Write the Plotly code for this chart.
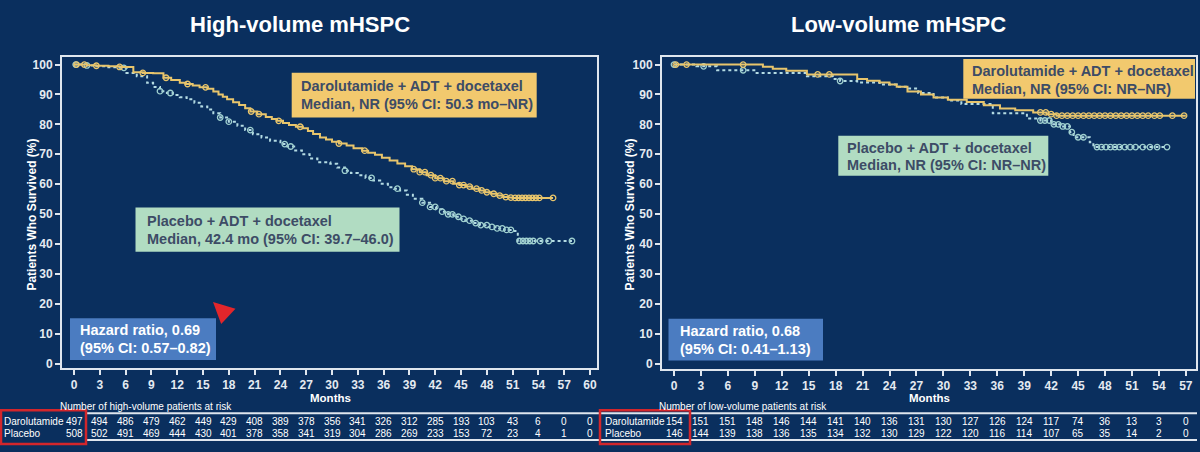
import numpy as np
import plotly.graph_objects as go

W, H = 1200, 452
BG = "#0a2f5e"
FONT = "Liberation Sans, Arial, sans-serif"
GOLD = "#e8c56c"
PBO = "#b4dbe3"
PBO_MK = "#9fd0cf"
AXIS = "#dfe6ee"
BOXTXT = "#3d4c66"

# ---------------- data ----------------
# High-volume: Darolutamide + ADT + docetaxel
hv_daro_t = [0, 1.5, 2.6, 4.0, 5.3, 6.9, 8.0, 9.2, 10.4, 11.3, 12.3, 13.0, 13.8, 14.6, 15.5, 16.2,
             16.8, 17.3, 17.8, 18.5, 19.2, 19.9, 20.5, 21.3, 22.3, 23.0, 23.6, 24.3, 25.0, 25.8,
             26.6, 27.2, 27.8, 28.6, 29.3, 30.0, 30.8, 31.7, 32.5, 33.5, 34.2, 35.0, 35.8, 36.7,
             37.6, 38.5, 39.3, 40.2, 41.0, 42.0, 43.0, 44.1, 44.8, 45.5, 46.3, 47.2, 47.8, 48.5,
             49.2, 49.9, 50.5, 51.0, 55.7]
hv_daro_s = [100, 99.8, 99.6, 99.4, 99.2, 97.4, 97.2, 97.1, 95.6, 94.8, 93.9, 93.5, 93.0, 92.4, 91.9, 91.0,
             90.0, 89.2, 88.4, 87.4, 86.5, 85.4, 84.3, 83.4, 82.5, 81.8, 81.2, 80.5, 79.8, 79.2,
             78.7, 77.8, 76.8, 75.6, 74.9, 74.2, 73.6, 72.9, 72.0, 71.2, 70.5, 69.8, 68.8, 67.9,
             66.9, 66.0, 65.0, 64.0, 63.0, 62.0, 61.0, 60.1, 59.7, 59.2, 58.5, 57.9, 57.3, 56.8,
             56.2, 55.7, 55.5, 55.4, 55.4]
hv_daro_cens = [0.3, 1.2, 2.6, 5.3, 8.0, 10.7, 13.2, 15.3, 20.6, 21.5, 23.8, 26.3, 30.8, 33.8,
                39.5, 40.2, 40.8, 41.5, 42.0, 42.6, 43.3, 44.0, 44.8, 45.3, 46.0, 46.8, 47.4,
                48.0, 48.8, 49.5, 50.2, 50.8, 51.3, 51.7, 52.1, 52.5, 52.9, 53.3, 53.7, 54.1, 55.7]

# High-volume: Placebo + ADT + docetaxel
hv_pbo_t = [0, 1.5, 2.6, 4.0, 5.3, 6.1, 7.3, 8.5, 9.2, 10.0, 10.8, 11.5, 12.3, 13.1, 14.0, 14.8,
            15.5, 16.2, 17.0, 18.0, 19.0, 19.9, 20.8, 21.8, 22.8, 24.0, 24.8, 25.6, 26.5, 27.4,
            28.3, 29.8, 30.6, 31.5, 32.2, 33.0, 33.9, 34.8, 35.6, 36.5, 37.2, 37.9, 38.7, 39.4,
            40.5, 41.4, 42.1, 42.8, 43.5, 44.1, 44.8, 45.5, 46.3, 47.2, 48.1, 49.0, 50.0, 51.0,
            51.6, 57.9]
hv_pbo_s = [100, 99.7, 99.4, 99.1, 98.9, 97.2, 96.1, 93.9, 92.5, 91.1, 90.5, 89.8, 89.1, 88.4, 87.2, 86.0,
            85.0, 83.7, 82.3, 80.9, 79.5, 78.1, 76.7, 75.6, 74.5, 73.4, 72.6, 71.3, 70.0, 68.6,
            67.3, 66.8, 65.6, 64.5, 63.7, 63.0, 62.1, 61.2, 60.1, 59.0, 58.5, 57.9, 56.5, 55.1,
            53.8, 52.4, 51.6, 50.8, 49.9, 49.1, 48.4, 47.8, 47.0, 46.3, 45.7, 45.2, 44.7, 44.3,
            41.0, 41.0]
hv_pbo_cens = [0.2, 1.5, 5.8, 10.0, 11.2, 17.0, 18.0, 20.5, 24.5, 25.2, 31.5, 34.6, 37.6, 40.5,
               41.4, 42.0, 42.8, 43.5, 44.0, 44.7, 45.3, 46.0, 46.7, 47.3, 48.0, 48.6, 49.2, 49.8,
               50.3, 50.8, 51.8, 52.2, 52.6, 53.0, 53.4, 54.2, 55.2, 57.9]

# Low-volume: Darolutamide + ADT + docetaxel
lv_daro_t = [0, 9.9, 11.0, 12.5, 14.8, 20.4, 21.5, 22.9, 24.0, 24.8, 26.0, 27.5, 28.9, 30.5,
             32.6, 34.5, 36.3, 38.0, 40.0, 41.5, 42.6, 57.0]
lv_daro_s = [100, 99.3, 98.6, 97.9, 96.7, 95.2, 94.6, 94.0, 93.3, 92.6, 91.0, 90.0, 89.0, 88.2,
             87.5, 86.4, 85.3, 84.7, 84.0, 83.4, 82.9, 82.9]
lv_daro_cens = [0.2, 1.4, 7.7, 16.0, 17.3, 40.8, 41.4, 42.0, 42.6, 43.2, 43.8, 44.4, 45.0, 45.6,
                46.2, 46.8, 47.4, 48.0, 48.6, 49.2, 49.8, 50.4, 51.0, 51.6, 52.2, 52.8, 53.5,
                54.1, 55.5, 56.8]

# Low-volume: Placebo + ADT + docetaxel
lv_pbo_t = [0, 2.5, 4.8, 9.2, 14.8, 17.7, 18.5, 20.4, 22.9, 24.8, 26.0, 27.2, 28.9, 30.5, 32.0,
            35.5, 39.3, 40.8, 42.0, 43.0, 44.1, 44.5, 46.3, 46.7, 54.9]
lv_pbo_s = [100, 99.4, 98.1, 97.2, 96.1, 95.2, 94.5, 94.0, 93.3, 92.6, 92.0, 90.5, 89.0, 88.0, 86.8,
            83.7, 82.0, 81.3, 80.0, 79.3, 77.4, 75.7, 74.0, 72.4, 72.4]
lv_pbo_cens = [0.0, 3.3, 7.7, 18.5, 40.8, 41.3, 41.8, 42.3, 42.8, 43.3, 43.8, 44.3, 45.0, 45.6,
               47.1, 47.6, 48.1, 48.6, 49.1, 49.6, 50.2, 50.8, 51.4, 52.2, 53.0, 53.8, 54.9]

# Numbers at risk
months_hv = list(range(0, 61, 3))
risk_hv_daro = [497, 494, 486, 479, 462, 449, 429, 408, 389, 378, 356, 341, 326, 312, 285, 193, 103, 43, 6, 0, 0]
risk_hv_pbo = [508, 502, 491, 469, 444, 430, 401, 378, 358, 341, 319, 304, 286, 269, 233, 153, 72, 23, 4, 1, 0]
months_lv = list(range(0, 58, 3))
risk_lv_daro = [154, 151, 151, 148, 146, 144, 141, 140, 136, 131, 130, 127, 126, 124, 117, 74, 36, 13, 3, 0]
risk_lv_pbo = [146, 144, 139, 138, 136, 135, 134, 132, 130, 129, 122, 120, 116, 114, 107, 65, 35, 14, 2, 0]

y_ticks = list(range(0, 101, 10))


# ---------------- helpers ----------------
def px(x):
    return x / W


def py(y):
    return 1 - y / H


def step_at(t, s, times):
    t = np.asarray(t)
    s = np.asarray(s)
    idx = np.searchsorted(t, np.asarray(times), side="right") - 1
    idx = np.clip(idx, 0, len(s) - 1)
    return s[idx]


fig = go.Figure()


def add_km(t, s, cens, xa, ya, color, mk_color, dash):
    fig.add_trace(go.Scatter(x=t, y=s, mode="lines", line=dict(color=color, width=2, dash=dash, shape="hv"),
                             xaxis=xa, yaxis=ya, showlegend=False, hoverinfo="skip"))
    fig.add_trace(go.Scatter(x=cens, y=step_at(t, s, cens), mode="markers",
                             marker=dict(symbol="circle-open", size=5.5, color=mk_color, line=dict(width=1.3)),
                             xaxis=xa, yaxis=ya, showlegend=False, hoverinfo="skip"))


add_km(hv_pbo_t, hv_pbo_s, hv_pbo_cens, "x", "y", PBO, PBO_MK, "dot")
add_km(hv_daro_t, hv_daro_s, hv_daro_cens, "x", "y", GOLD, GOLD, "solid")
add_km(lv_pbo_t, lv_pbo_s, lv_pbo_cens, "x2", "y2", PBO, PBO_MK, "dot")
add_km(lv_daro_t, lv_daro_s, lv_daro_cens, "x2", "y2", GOLD, GOLD, "solid")

axis_common = dict(showline=True, linecolor=AXIS, linewidth=2, mirror=True, showgrid=False, zeroline=False,
                   ticks="outside", ticklen=5, tickwidth=1.5, tickcolor=AXIS,
                   tickfont=dict(family=FONT, size=12, color="#e4eaf1", weight="bold"))

fig.update_layout(
    width=W, height=H, autosize=False,
    margin=dict(l=0, r=0, t=0, b=0),
    paper_bgcolor=BG, plot_bgcolor=BG,
    xaxis=dict(domain=[px(62), px(597)], range=[-1.395, 60.81], tickvals=months_hv, anchor="y", **axis_common),
    yaxis=dict(domain=[py(370), py(57)], range=[-1.33, 102.66], tickvals=y_ticks, anchor="x", **axis_common),
    xaxis2=dict(domain=[px(662), px(1196)], range=[-1.336, 58.13], tickvals=months_lv, anchor="y2", **axis_common),
    yaxis2=dict(domain=[py(371), py(57)], range=[-1.66, 102.66], tickvals=y_ticks, anchor="x2", **axis_common),
)

ann = []
shapes = []


def text(x, y, s, size=12, color="white", bold=True, xanchor="center", xref="paper", angle=0):
    ann.append(dict(x=x, y=py(y), xref=xref, yref="paper", text=s, showarrow=False,
                    xanchor=xanchor, yanchor="middle", textangle=angle,
                    font=dict(family=FONT, size=size, color=color, weight="bold" if bold else "normal")))


def box(x0, y0, x1, y1, fill, lines, tx, ty, color):
    shapes.append(dict(type="rect", xref="paper", yref="paper", x0=px(x0), x1=px(x1), y0=py(y1), y1=py(y0),
                       fillcolor=fill, line=dict(width=0), layer="above"))
    for ln, yy in zip(lines, ty):
        text(px(tx), yy, ln, size=14.5, color=color, xanchor="left")


# Titles
text(px(300), 25, "High-volume mHSPC", size=22)
text(px(898), 25, "Low-volume mHSPC", size=22)

# Axis titles
text(px(32), 216, "Patients Who Survived (%)", size=12, angle=-90)
text(px(630), 216, "Patients Who Survived (%)", size=12, angle=-90)
text(px(330), 400.5, "Months", size=11.5)
text(px(929), 400.5, "Months", size=11.5)

# Boxes, left
box(291.7, 73.3, 536.7, 118.3, "#f2c96e",
    ["Darolutamide + ADT + docetaxel", "Median, NR (95% CI: 50.3 mo\u2013NR)"], 298.5, [87, 104.5], BOXTXT)
box(135.5, 209, 399.5, 253.5, "#b1dcc2",
    ["Placebo + ADT + docetaxel", "Median, 42.4 mo (95% CI: 39.7\u201346.0)"], 145, [222.5, 240.5], BOXTXT)
box(70, 320.5, 216, 362.5, "#4b7cc1",
    ["Hazard ratio, 0.69", "(95% CI: 0.57\u20130.82)"], 77.5, [332.5, 350.5], "white")

# Boxes, right
box(963.3, 59.3, 1195, 99.3, "#f2c96e",
    ["Darolutamide + ADT + docetaxel", "Median, NR (95% CI: NR\u2013NR)"], 969.5, [71.5, 89.5], BOXTXT)
box(838.3, 136.7, 1048.3, 177, "#b1dcc2",
    ["Placebo + ADT + docetaxel", "Median, NR (95% CI: NR\u2013NR)"], 845, [149, 166.5], BOXTXT)
box(668.5, 321, 823, 363, "#4b7cc1",
    ["Hazard ratio, 0.68", "(95% CI: 0.41\u20131.13)"], 677.5, [333, 351], "white")

# At-risk tables
text(px(58), 409.5, "Number of high-volume patients at risk", size=10, bold=False, xanchor="left")
text(px(657), 409.5, "Number of low-volume patients at risk", size=10, bold=False, xanchor="left")

for x0, x1 in [(86, 598), (598, 1197)]:
    for yy in [416, 443]:
        shapes.append(dict(type="line", xref="paper", yref="paper", x0=px(x0), x1=px(x1), y0=py(yy), y1=py(yy),
                           line=dict(color="#dfe6ee", width=2)))

ROW1, ROW2 = 424, 436
text(px(2), ROW1, "Darolutamide", size=10, bold=False, xanchor="left")
text(px(2), ROW2, "Placebo", size=10, bold=False, xanchor="left")
text(px(603), ROW1, "Darolutamide", size=10, bold=False, xanchor="left")
text(px(603), ROW2, "Placebo", size=10, bold=False, xanchor="left")

for m, a, b in zip(months_hv, risk_hv_daro, risk_hv_pbo):
    text(m, ROW1, str(a), size=10, bold=False, xref="x")
    text(m, ROW2, str(b), size=10, bold=False, xref="x")
for m, a, b in zip(months_lv, risk_lv_daro, risk_lv_pbo):
    text(m, ROW1, str(a), size=10, bold=False, xref="x2")
    text(m, ROW2, str(b), size=10, bold=False, xref="x2")

# red highlight boxes around row labels
for x0, x1 in [(1, 86), (600, 690)]:
    shapes.append(dict(type="rect", xref="paper", yref="paper", x0=px(x0), x1=px(x1), y0=py(447), y1=py(413),
                       line=dict(color="#d3262b", width=2.5), fillcolor="rgba(0,0,0,0)"))

# red mouse pointer
ann.append(dict(x=px(213), y=py(304), xref="paper", yref="paper", text="", showarrow=True,
                ax=15, ay=14, arrowhead=2, arrowsize=1.2, arrowwidth=3.5, arrowcolor="#e3262b", standoff=0))

fig.update_layout(annotations=ann, shapes=shapes)
fig.write_html("out.html")
